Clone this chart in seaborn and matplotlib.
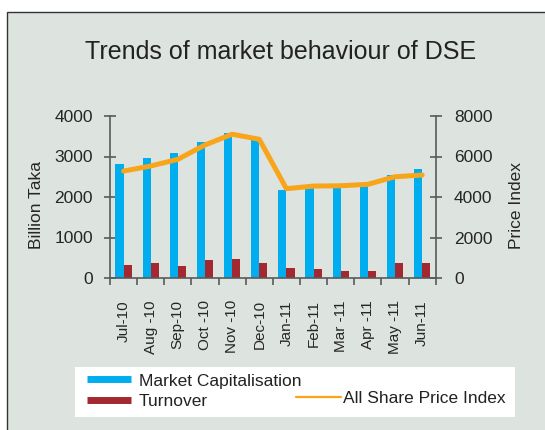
import numpy as np
import pandas as pd
import matplotlib
matplotlib.use("Agg")
import matplotlib.pyplot as plt
from matplotlib.lines import Line2D
from matplotlib.patches import Rectangle
import seaborn as sns

# ── Data ──────────────────────────────────────────────────────────────────────
months = ["Jul-10", "Aug -10", "Sep-10", "Oct -10", "Nov -10", "Dec-10",
          "Jan-11", "Feb-11", "Mar -11", "Apr -11", "May -11", "Jun-11"]
market_cap = [2810, 2955, 3090, 3350, 3575, 3430,
              2180, 2240, 2240, 2280, 2535, 2690]
turnover = [315, 365, 305, 455, 465, 380, 250, 232, 166, 182, 380, 380]
price_index = [5280, 5530, 5860, 6570, 7100, 6850,
               4410, 4540, 4555, 4625, 5000, 5085]

# ── Style ─────────────────────────────────────────────────────────────────────
BLUE = "#00AEEF"
RED = "#A4282F"
ORANGE = "#F8A51B"
BG = "#DDE3DF"
AXC = "#5A5A5A"

sns.set_style("white")
plt.rcParams["font.family"] = ["Liberation Sans", "DejaVu Sans"]
plt.rcParams["text.color"] = "#222222"

W, H = 545, 430
fig = plt.figure(figsize=(W / 100, H / 100), dpi=100)
fig.patch.set_facecolor("white")

# outer frame of the chart panel
fig.patches.append(Rectangle((7 / W, -0.1), 1.2, 1.1 - 12 / H,
                             transform=fig.transFigure, facecolor=BG,
                             edgecolor="#333333", linewidth=1.0, zorder=-5))

ax = fig.add_axes([110 / W, 1 - 278 / H, (435.7 - 110) / W, (278 - 116) / H])
ax.set_facecolor("none")

df = pd.DataFrame({
    "month": months * 2,
    "value": market_cap + turnover,
    "series": ["Market Capitalisation"] * len(months) + ["Turnover"] * len(months),
})
sns.barplot(data=df, x="month", y="value", hue="series",
            palette=[BLUE, RED], saturation=1, width=0.6, gap=0,
            edgecolor="none", legend=False, ax=ax)

ax.set_xlim(-0.5, len(months) - 0.5)
ax.set_ylim(0, 4000)
ax.set_yticks(np.arange(0, 4001, 1000))
ax.set_xlabel("")
ax.set_ylabel("Billion Taka", fontsize=12.5)
ax.yaxis.set_label_coords(-0.203, 0.45)

# category labels at centres, tick marks at the boundaries
ax.set_xticks(np.arange(len(months)))
ax.set_xticklabels(months, rotation=90, fontsize=11)
ax.set_xticks(np.arange(-0.5, len(months), 1.0), minor=True)
ax.tick_params(axis="x", which="major", length=0, pad=16, bottom=True)
ax.tick_params(axis="x", which="minor", direction="out", length=5,
               width=1.2, color=AXC, bottom=True)

ax2 = ax.twinx()
ax2.set_facecolor("none")
sns.lineplot(x=np.arange(len(months)), y=price_index, color=ORANGE,
             linewidth=3.6, solid_joinstyle="round", solid_capstyle="round",
             ax=ax2)
ax2.set_ylim(0, 8000)
ax2.set_yticks(np.arange(0, 8001, 2000))
ax2.set_ylabel("Price Index", fontsize=12.5)
ax2.yaxis.set_label_coords(1.225, 0.45)

for a in (ax, ax2):
    for s in a.spines.values():
        s.set_color(AXC)
        s.set_linewidth(1.2)
    a.spines["top"].set_visible(False)
ax.spines["right"].set_visible(False)
ax2.spines["left"].set_visible(False)
ax2.spines["bottom"].set_visible(False)

ax.tick_params(axis="y", direction="inout", length=8.5, width=1.2,
               color=AXC, labelsize=12.5, pad=8, left=True)
ax2.tick_params(axis="y", direction="inout", length=8.5, width=1.2,
                color=AXC, labelsize=12.5, pad=9, right=True)

fig.text(281 / W, 1 - 52 / H, "Trends of market behaviour of DSE",
         ha="center", va="center", fontsize=18)

# legend panel
fig.patches.append(Rectangle((75 / W, 1 - 417 / H), 440 / W, 50 / H,
                             transform=fig.transFigure, facecolor="white",
                             edgecolor="none", zorder=1))
h1 = [Line2D([], [], color=BLUE, linewidth=5, solid_capstyle="butt"),
      Line2D([], [], color=RED, linewidth=5, solid_capstyle="butt")]
leg1 = fig.legend(h1, ["Market Capitalisation", "Turnover"],
                  loc="center left", bbox_to_anchor=(87 / W, 1 - 391.3 / H),
                  frameon=False, fontsize=12.5, handlelength=2.55,
                  handletextpad=0.45, labelspacing=0.32, borderpad=0,
                  borderaxespad=0)
leg1.set_zorder(2)
h2 = [Line2D([], [], color=ORANGE, linewidth=1.6)]
leg2 = fig.legend(h2, ["All Share Price Index"],
                  loc="center left", bbox_to_anchor=(296 / W, 1 - 398 / H),
                  frameon=False, fontsize=12.5, handlelength=2.6,
                  handletextpad=0.1, borderpad=0, borderaxespad=0)
leg2.set_zorder(2)

fig.savefig("out.png", dpi=100, facecolor=fig.get_facecolor())
